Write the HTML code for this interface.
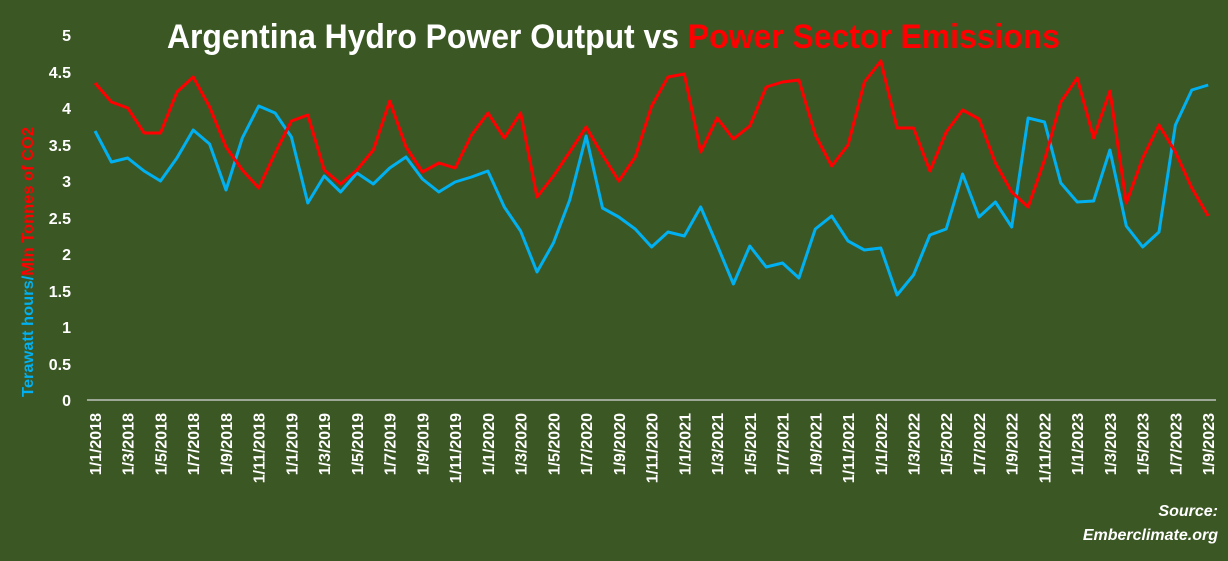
<!DOCTYPE html>
<html><head><meta charset="utf-8"><style>
html,body{margin:0;padding:0;background:#3B5724;}
svg{display:block;font-family:"Liberation Sans",sans-serif;}
</style></head><body>
<svg width="1228" height="561" viewBox="0 0 1228 561" xmlns="http://www.w3.org/2000/svg">
<rect width="1228" height="561" fill="#3B5724"/>
<text x="167" y="48" font-size="34" font-weight="bold" fill="#fff" textLength="893" lengthAdjust="spacingAndGlyphs">Argentina Hydro Power Output vs <tspan fill="#FF0000">Power Sector Emissions</tspan></text>
<g font-size="16" font-weight="bold" fill="#fff" text-anchor="end">
<text x="71" y="41">5</text><text x="71" y="78">4.5</text><text x="71" y="114">4</text><text x="71" y="151">3.5</text><text x="71" y="187">3</text><text x="71" y="224">2.5</text><text x="71" y="260">2</text><text x="71" y="297">1.5</text><text x="71" y="333">1</text><text x="71" y="370">0.5</text><text x="71" y="406">0</text>
</g>
<text transform="translate(33,397) rotate(-90)" font-size="16" font-weight="bold" fill="#00B0F0" textLength="270" lengthAdjust="spacingAndGlyphs">Terawatt hours/<tspan fill="#FF0000">Mln Tonnes of CO2</tspan></text>
<line x1="87" y1="400" x2="1216" y2="400" stroke="#D9D9D9" stroke-width="1.2"/>
<g id="xl" font-size="16" font-weight="bold" fill="#fff" text-anchor="end"></g>
<polyline id="blue" fill="none" stroke="#00B0F0" stroke-width="3" stroke-linejoin="round"/>
<polyline id="red" fill="none" stroke="#FF0000" stroke-width="3" stroke-linejoin="round"/>
<g font-size="16" font-weight="bold" font-style="italic" fill="#fff" text-anchor="end">
<text x="1218" y="516">Source:</text>
<text x="1218" y="540">Emberclimate.org</text>
</g>
</svg>
<script>
var B=[131,162,158,171,181,158,130,144,190,138,106,113,137,203,176,192,173,184,168,157,179,192,182,177,171,207,231,272,243,200,136,208,217,229,247,232,236,207,245,284,246,267,263,278,229,216,241,250,248,295,275,235,229,174,217,202,227,118,122,183,202,201,150,226,247,232,125,90,85];
var R=[83,102,108,133,133,92,77,107,147,170,188,153,121,115,170,184,170,150,101,147,172,163,168,135,113,138,113,197,176,152,127,155,181,157,106,77,74,152,118,139,126,87,82,80,135,166,145,82,61,128,128,171,132,110,119,163,192,207,160,102,78,138,91,203,158,125,152,188,216];
function X(i){return 95+i*16.37;}
document.getElementById('blue').setAttribute('points',B.map(function(y,i){return X(i).toFixed(1)+','+y}).join(' '));
document.getElementById('red').setAttribute('points',R.map(function(y,i){return X(i).toFixed(1)+','+y}).join(' '));
var g=document.getElementById('xl'),s='';
for(var i=0;i<69;i+=2){var m=i%12+1,yr=2018+Math.floor(i/12);
s+='<text transform="translate('+(X(i)+6).toFixed(1)+',413) rotate(-90)">1/'+m+'/'+yr+'</text>';}
g.innerHTML=s;
</script>
</body></html>
